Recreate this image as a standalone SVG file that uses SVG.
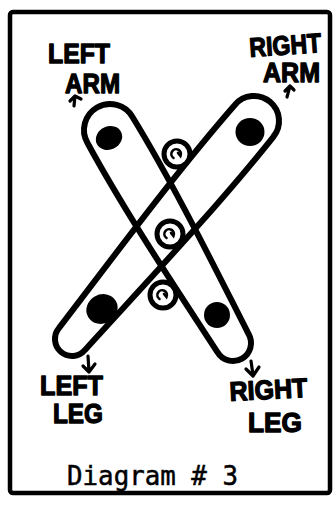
<svg xmlns="http://www.w3.org/2000/svg" xmlns:xlink="http://www.w3.org/1999/xlink" width="335" height="505" viewBox="0 0 335 505">
<style>
.hand{font-family:"Liberation Sans",Arial,sans-serif;font-weight:bold;font-size:27px;fill:#000;stroke:#000;stroke-width:1.3;stroke-linejoin:round}
.oval{fill:none;stroke:#000;stroke-width:6;stroke-linejoin:round}
.arr{fill:none;stroke:#000;stroke-width:3.2;stroke-linecap:round;stroke-linejoin:round}
.cap{font-family:"DejaVu Sans Mono","Liberation Mono",monospace;font-size:26px;fill:#000;stroke:#000;stroke-width:0.5}
</style>
<defs>
<g id="ring">
<circle r="13" fill="#fff" stroke="#000" stroke-width="5"/>
<path d="M-3.5,4 A4.8,4.8 0 1 1 3.5,2 L1,-1" fill="none" stroke="#000" stroke-width="2.6" stroke-linecap="round"/>
</g>
</defs>
<rect x="10" y="12" width="320" height="481" rx="3" fill="#fff" stroke="#000" stroke-width="4.5"/>
<g id="oval-left-arm-right-leg">
<path class="oval" transform="translate(110,130) rotate(60)" d="M0,-26 C80,-28 170,-22 246,-18 A18,18 0 0 1 246,18 C170,22 80,28 0,26 A26,26 0 0 1 0,-26 Z"/>
</g>
<g id="oval-right-arm-left-leg">
<path class="oval" transform="translate(254,121) rotate(129.86)" d="M0,-25 C90,-27 190,-21 284,-17 A17,17 0 0 1 284,17 C190,21 90,27 0,25 A25,25 0 0 1 0,-25 Z"/>
</g>
<g id="dots">
<ellipse cx="109" cy="138" rx="13.5" ry="11.5" transform="rotate(-25 109 138)"/>
<ellipse cx="250" cy="132" rx="14.5" ry="14"/>
<ellipse cx="102" cy="309" rx="16" ry="14.5" transform="rotate(-30 102 309)"/>
<ellipse cx="217" cy="315" rx="13" ry="13"/>
</g>
<g id="rings">
<use xlink:href="#ring" x="177" y="154"/>
<use xlink:href="#ring" x="170" y="234"/>
<use xlink:href="#ring" x="163" y="295"/>
</g>
<g id="connectors">
<path class="arr" d="M70,101 L75,96 L81,99 M75,96 L74,106"/>
<path class="arr" d="M285,91 L290,86 L294,90 M290,86 L287,97"/>
<path class="arr" d="M88,356 L89,372 M83,366 L89,372 L95,364"/>
<path class="arr" d="M251,361 L253,375 M246,369 L253,376 L259,367"/>
</g>
<g id="label-left-arm">
<text class="hand" x="48" y="63" textLength="62" lengthAdjust="spacingAndGlyphs">LEFT</text>
<text class="hand" x="65" y="93" textLength="55" lengthAdjust="spacingAndGlyphs">ARM</text>
</g>
<g id="label-right-arm">
<text class="hand" x="250" y="57" textLength="72" lengthAdjust="spacingAndGlyphs" transform="rotate(-4 250 57)">RIGHT</text>
<text class="hand" x="263" y="82" textLength="57" lengthAdjust="spacingAndGlyphs">ARM</text>
</g>
<g id="label-left-leg">
<text class="hand" x="40" y="395" textLength="63" lengthAdjust="spacingAndGlyphs">LEFT</text>
<text class="hand" x="53" y="423" textLength="50" lengthAdjust="spacingAndGlyphs">LEG</text>
</g>
<g id="label-right-leg">
<text class="hand" x="230" y="401" textLength="78" lengthAdjust="spacingAndGlyphs" transform="rotate(-3 230 401)">RIGHT</text>
<text class="hand" x="248" y="432" textLength="54" lengthAdjust="spacingAndGlyphs">LEG</text>
</g>
<g id="caption">
<text class="cap" x="67" y="485" textLength="171" lengthAdjust="spacingAndGlyphs">Diagram # 3</text>
</g>
</svg>
